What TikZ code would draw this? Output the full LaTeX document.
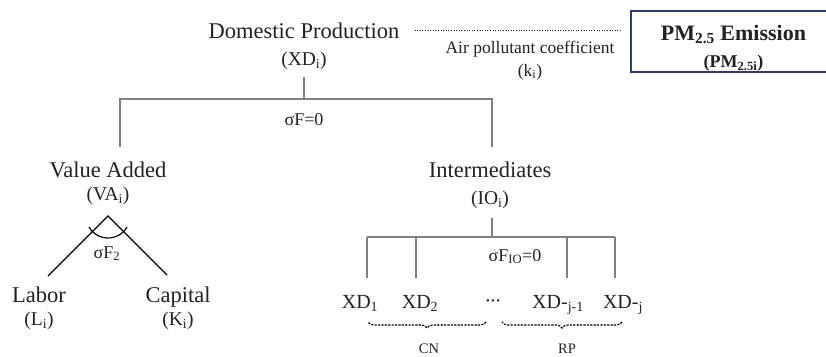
\documentclass[tikz,border=0pt]{standalone}
\usepackage{fontspec}
\setmainfont{Liberation Serif}
\usetikzlibrary{calc, decorations.pathreplacing}
\definecolor{navybox}{RGB}{47, 62, 104}
\definecolor{treegray}{RGB}{128, 128, 128}
\definecolor{inkblack}{RGB}{34, 34, 34}

\begin{document}
\begin{tikzpicture}[
    x=1pt, y=-1pt,
    lbl/.style={inner sep=0pt, anchor=base, text=inkblack,
                font=\fontsize{22.5}{27}\selectfont},
    sym/.style={lbl, font=\fontsize{19.5}{23}\selectfont},
    sigma/.style={lbl, font=\fontsize{18}{22}\selectfont},
    coef/.style={lbl, font=\fontsize{17.5}{21}\selectfont},
    grp/.style={lbl, font=\fontsize{14.5}{17}\selectfont},
    xd/.style={lbl, font=\fontsize{20}{24}\selectfont},
    tree/.style={draw=treegray, line width=1.1pt},
    vline/.style={draw=black, line width=1.2pt},
    dotline/.style={draw=inkblack, line width=1pt, dash pattern=on 1pt off 1.6pt},
    brc/.style={draw=black, line width=1.1pt, dash pattern=on 2.2pt off 1.2pt,
                decorate, decoration={brace, amplitude=6pt}},
    pmbox/.style={draw=navybox, line width=1.6pt, fill=white, minimum width=205pt,
                  minimum height=61pt, align=center, text=inkblack, inner sep=0pt,
                  font=\fontsize{22}{27}\selectfont\bfseries}
]
    \useasboundingbox (0,0) rectangle (826,356);

    % top level and emission box
    \node[lbl] (dp) at (304,38) {Domestic Production};
    \node[sym] (dpsym) at (304,65) {(XD\textsubscript{i})};
    \node[pmbox] (pm) at (733.5,41.5)
        {\rule{0pt}{29pt}PM\textsubscript{2.5} Emission\\{\fontsize{18}{27}\selectfont(PM\textsubscript{2.5i})}};
    \draw[dotline] ($(dp.east)+(15,0)$) -- ($(dp.east -| pm.west)+(-9,0)$);
    \node[coef] (coef) at (530,53) {Air pollutant coefficient};
    \node[coef] (ksym) at (530,76) {(k\textsubscript{i})};

    % first split
    \coordinate (j0) at (304,99);
    \coordinate (vatop) at (120,147);
    \coordinate (iotop) at (492,147);
    \draw[tree] ($(dpsym.south)+(0,8)$) -- (j0);
    \draw[tree] (vatop) |- (j0) -| (iotop);
    \node[sigma] (sf0) at (304,125) {σF=0};

    % value added
    \node[lbl] (va) at (108,177) {Value Added};
    \node[sym] (vasym) at (108,200) {(VA\textsubscript{i})};
    \coordinate (apex) at (108,216);
    \coordinate (vl) at (48,276);
    \coordinate (vr) at (167,275);
    \draw[vline] (vl) -- (apex) -- (vr);
    \draw[vline] ([shift={(210:22pt)}]apex) arc[start angle=210, end angle=330, radius=22pt];
    \node[sigma] (sf2) at (107,258) {σF\textsubscript{2}};
    \node[lbl] (lab) at (39,302) {Labor};
    \node[sym] (labsym) at (39,325) {(L\textsubscript{i})};
    \node[lbl] (cap) at (178,302) {Capital};
    \node[sym] (capsym) at (178,325) {(K\textsubscript{i})};

    % intermediates
    \node[lbl] (io) at (490,177) {Intermediates};
    \node[sym] (iosym) at (490,204) {(IO\textsubscript{i})};
    \coordinate (j1) at (492,237);
    \draw[tree] ($(j1 |- iosym.south)+(0,10)$) -- (j1);
    \draw[tree] (367,237) -- (615,237);
    \foreach \n/\x in {1/367, 2/416, 3/567, 4/615} {
        \coordinate (t\n) at (\x,278);
        \draw[tree] (\x,237) -- (t\n);
    }
    \node[sigma] (sfio) at (515,261) {σF\textsubscript{IO}=0};

    \node[xd] (xd1) at (360,308) {XD\textsubscript{1}};
    \node[xd] (xd2) at (420,308) {XD\textsubscript{2}};
    \node[xd] (dots) at (493,307) {·\kern-1.5pt·\kern-1.5pt·};
    \node[xd] (xdj1) at (558,308) {XD-\textsubscript{j-1}};
    \node[xd] (xdj) at (623,308) {XD-\textsubscript{j}};

    % groups
    \draw[brc] (486,322) -- (368,322);
    \draw[brc] (622,322) -- (502,322);
    \node[grp] (cn) at (429,353) {CN};
    \node[grp] (rp) at (567,353) {RP};
\end{tikzpicture}
\end{document}
